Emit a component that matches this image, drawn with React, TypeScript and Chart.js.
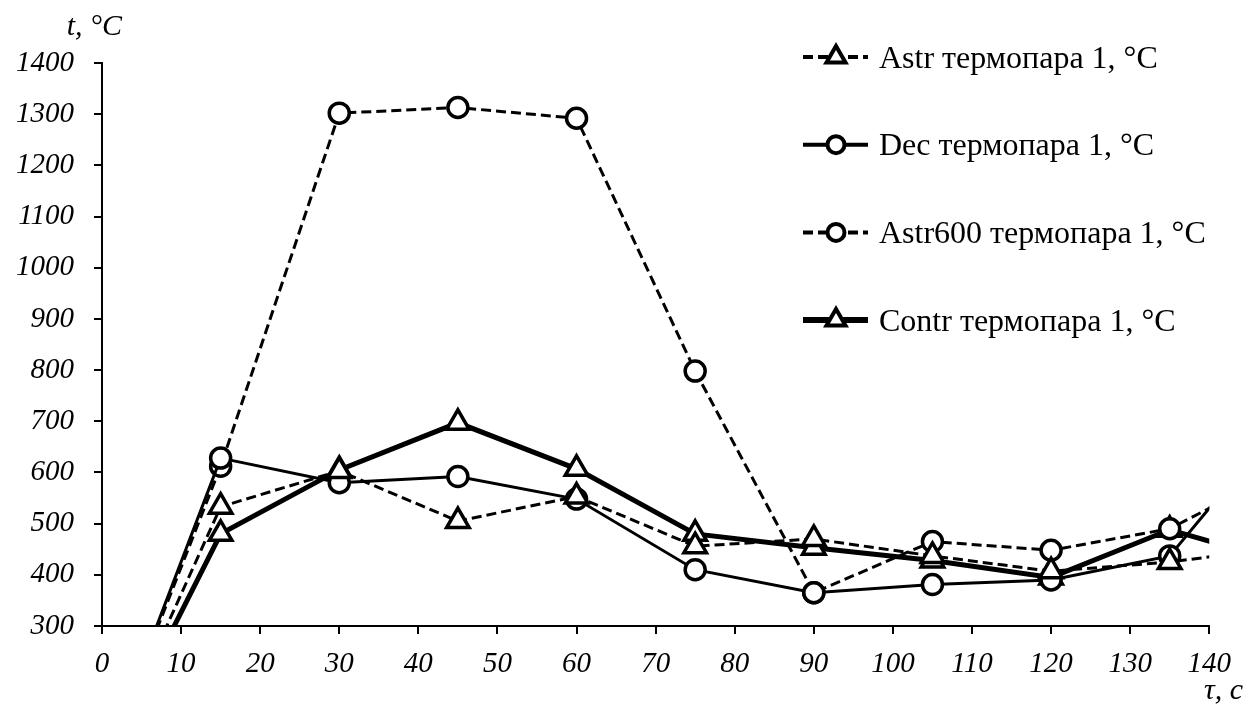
import React, { useEffect, useRef } from 'react';
import { Chart, registerables } from 'chart.js';

Chart.register(...registerables);

// ---- data ----
const timeS = [0, 15, 30, 45, 60, 75, 90, 105, 120, 135, 150];
const astrT1 = [20, 533, 603, 505, 553, 456, 470, 437, 407, 425, 455];
const decT1 = [20, 628, 580, 592, 548, 410, 365, 381, 390, 437, 716];
const astr600T1 = [20, 612, 1302, 1313, 1292, 798, 365, 465, 448, 490, 610];
const contrT1 = [20, 480, 605, 697, 607, 480, 453, 428, 395, 488, 421];

const seriesLabels = [
  'Astr термопара 1, °C',
  'Dec термопара 1, °C',
  'Astr600 термопара 1, °C',
  'Contr термопара 1, °C',
];

const xMin = 0;
const xMax = 140;
const xStep = 10;
const yMin = 300;
const yMax = 1400;
const yStep = 100;
const yAxisTitle = 't, °C';
const xAxisTitle = 'τ, с';

const FONT = '"Liberation Serif", "Times New Roman", serif';

function drawMarker(ctx: CanvasRenderingContext2D, style: string, x: number, y: number, r: number, bw: number) {
  ctx.save();
  ctx.setLineDash([]);
  ctx.lineWidth = bw;
  ctx.strokeStyle = '#000';
  ctx.fillStyle = '#fff';
  ctx.beginPath();
  if (style === 'circle') {
    ctx.arc(x, y, r, 0, Math.PI * 2);
  } else {
    let rad = 0;
    const T = (2 * Math.PI) / 3;
    ctx.moveTo(x + Math.sin(rad) * r, y - Math.cos(rad) * r);
    rad += T;
    ctx.lineTo(x + Math.sin(rad) * r, y - Math.cos(rad) * r);
    rad += T;
    ctx.lineTo(x + Math.sin(rad) * r, y - Math.cos(rad) * r);
    ctx.closePath();
  }
  ctx.fill();
  ctx.stroke();
  ctx.restore();
}

const overlayPlugin = {
  id: 'overlay',
  afterDraw(chart: any) {
    const ctx: CanvasRenderingContext2D = chart.ctx;
    ctx.save();
    ctx.fillStyle = '#000';
    ctx.font = `italic 30px ${FONT}`;
    ctx.textAlign = 'right';
    ctx.textBaseline = 'alphabetic';
    ctx.fillText(yAxisTitle, 122, 35);
    ctx.fillText(xAxisTitle, 1243, 699);

    chart.data.datasets.forEach((ds: any, i: number) => {
      const y = 57 + i * 87.7;
      ctx.save();
      ctx.beginPath();
      ctx.setLineDash(ds.borderDash || []);
      ctx.lineWidth = ds.borderWidth + 1;
      ctx.strokeStyle = '#000';
      ctx.moveTo(803, y);
      ctx.lineTo(868, y);
      ctx.stroke();
      ctx.restore();
      drawMarker(ctx, ds.pointStyle, 836, y, ds.pointStyle === 'circle' ? 8.5 : 11, 4);
      ctx.font = `32px ${FONT}`;
      ctx.textAlign = 'left';
      ctx.fillStyle = '#000';
      ctx.fillText(ds.label, 879, y + 10.5);
    });
    ctx.restore();
  },
};

function toPoints(values: number[]) {
  return values.map((v, i) => ({ x: timeS[i], y: v }));
}

export default function App() {
  const canvasRef = useRef<HTMLCanvasElement | null>(null);

  useEffect(() => {
    if (!canvasRef.current) return;
    const common = {
      borderColor: '#000',
      pointBackgroundColor: '#fff',
      pointBorderColor: '#000',
      pointBorderWidth: 3.5,
      pointHoverRadius: 10,
      tension: 0,
      fill: false,
      clip: 0,
    };
    const tickFont = { family: FONT, size: 29, style: 'italic' };
    const chart = new Chart(canvasRef.current, {
      type: 'line',
      data: {
        datasets: [
          {
            ...common,
            label: seriesLabels[0],
            data: toPoints(astrT1),
            borderWidth: 3,
            borderDash: [10, 5],
            pointStyle: 'triangle',
            pointRadius: 13,
          },
          {
            ...common,
            label: seriesLabels[1],
            data: toPoints(decT1),
            borderWidth: 3,
            pointStyle: 'circle',
            pointRadius: 10,
          },
          {
            ...common,
            label: seriesLabels[2],
            data: toPoints(astr600T1),
            borderWidth: 3,
            borderDash: [10, 5],
            pointStyle: 'circle',
            pointRadius: 10,
          },
          {
            ...common,
            label: seriesLabels[3],
            data: toPoints(contrT1),
            borderWidth: 5,
            pointStyle: 'triangle',
            pointRadius: 13,
          },
        ] as any,
      },
      options: {
        animation: false,
        responsive: false,
        devicePixelRatio: 1,
        layout: { padding: { left: 0, top: 63, right: 32, bottom: 0 } },
        plugins: {
          legend: { display: false },
          tooltip: { enabled: false },
        },
        scales: {
          x: {
            type: 'linear',
            min: xMin,
            max: xMax,
            afterFit: (s: any) => {
              s.height = 82;
            },
            ticks: {
              stepSize: xStep,
              color: '#000',
              padding: 13,
              maxRotation: 0,
              font: tickFont,
              callback: (v: any) => String(v),
            },
            grid: {
              drawOnChartArea: false,
              drawTicks: true,
              tickLength: 8,
              color: '#000',
              lineWidth: 2,
            },
            border: { display: true, color: '#000', width: 2 },
          },
          y: {
            type: 'linear',
            min: yMin,
            max: yMax,
            afterFit: (s: any) => {
              s.width = 102;
            },
            ticks: {
              stepSize: yStep,
              color: '#000',
              padding: 20,
              font: tickFont,
              callback: (v: any) => String(v),
            },
            grid: {
              drawOnChartArea: false,
              drawTicks: true,
              tickLength: 8,
              color: '#000',
              lineWidth: 2,
            },
            border: { display: true, color: '#000', width: 2 },
          },
        },
      } as any,
      plugins: [overlayPlugin],
    });
    return () => chart.destroy();
  }, []);

  return (
    <div style={{ position: 'absolute', left: 0, top: 0, width: 1244, height: 708, background: '#fff' }}>
      <canvas ref={canvasRef} width={1244} height={708} style={{ display: 'block' }} />
    </div>
  );
}
